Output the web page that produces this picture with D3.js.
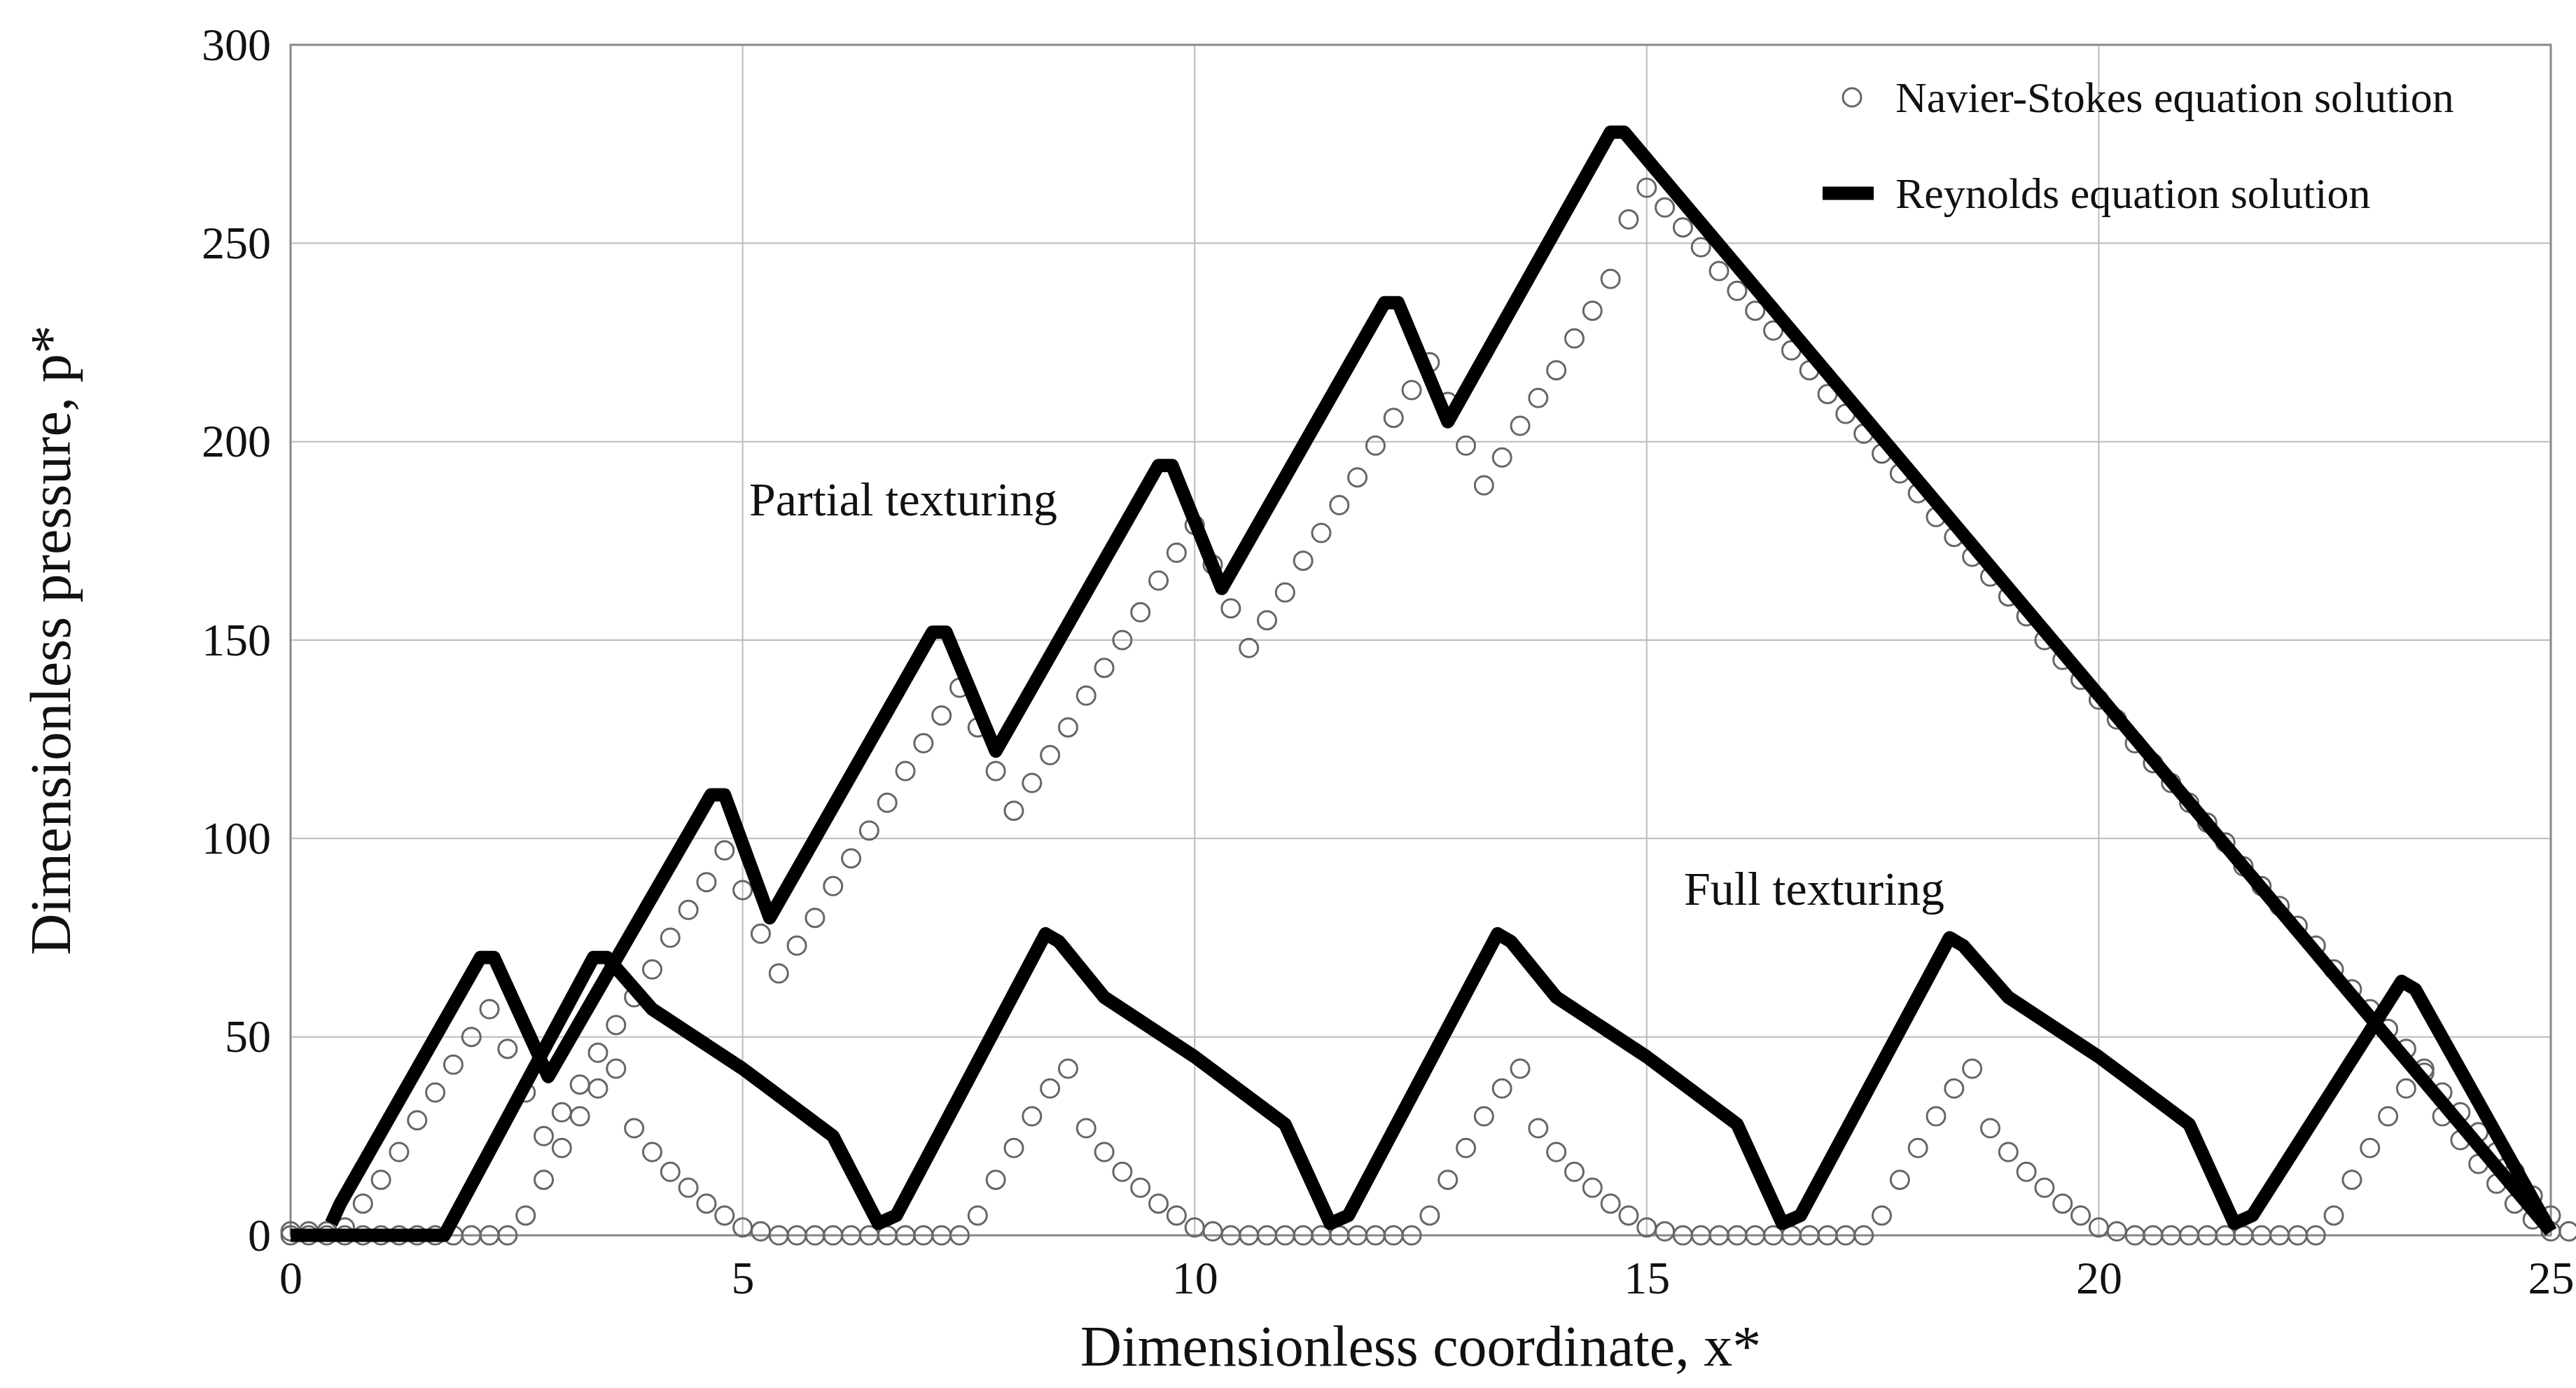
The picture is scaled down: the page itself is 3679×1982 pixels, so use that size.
<!DOCTYPE html>
<html>
<head>
<meta charset="utf-8">
<script src="https://cdn.jsdelivr.net/npm/d3@7"></script>
<style>
  body { margin: 0; background: #fff; }
  text { font-family: "Liberation Serif", "DejaVu Serif", serif; fill: #111; }
</style>
</head>
<body>
<svg id="chart" width="3679" height="1982"></svg>
<script>
// x step between Navier-Stokes samples
var nsStep = 0.2;

// Navier-Stokes, partial texturing (x = 0, 0.2, ... 25)
var nsPartial = [1,1,1,2,8,14,21,29,36,43,50,57,47,36,25,31,38,46,53,60,
  67,75,82,89,97,87,76,66,73,80,88,95,102,109,117,124,131,138,128,117,
  107,114,121,128,136,143,150,157,165,172,179,169,158,148,155,162,170,177,184,191,
  199,206,213,220,210,199,189,196,204,211,218,226,233,241,256,264,259,254,249,243,
  238,233,228,223,218,212,207,202,197,192,187,181,176,171,166,161,156,150,145,140,
  135,130,124,119,114,109,104,99,93,88,83,78,73,67,62,57,52,47,41,36,
  31,26,21,16,10,5,1];

// Navier-Stokes, full texturing (x = 0, 0.2, ... 25)
var nsFull = [0,0,0,0,0,0,0,0,0,0,0,0,0,
  5,14,22,30,37,42,27,21,16,12,8,5,2,1,0,0,0,0,0,0,0,0,0,0,0,
  5,14,22,30,37,42,27,21,16,12,8,5,2,1,0,0,0,0,0,0,0,0,0,0,0,
  5,14,22,30,37,42,27,21,16,12,8,5,2,1,0,0,0,0,0,0,0,0,0,0,0,
  5,14,22,30,37,42,27,21,16,12,8,5,2,1,0,0,0,0,0,0,0,0,0,0,0,
  5,14,22,30,37,42,30,24,18,13,8,4,1];

// Reynolds, partial texturing
var reyPartialX = [0.45,0.55,2.1,2.25,2.85,4.65,4.8,5.3,7.1,7.25,7.8,9.6,9.75,10.3,12.1,12.25,12.8,14.6,14.75,25];
var reyPartialY = [3,8,70,70,40,111,111,80,152,152,122,194,194,163,235,235,205,278,278,1];

// Reynolds, full texturing
var reyFullX = [0,1.7,3.35,3.5,4,5,6,6.5,6.7,8.35,8.5,9,10,11,11.5,11.7,13.35,13.5,14,15,16,16.5,16.7,18.35,18.5,19,20,21,21.5,21.7,23.35,23.5,25];
var reyFullY = [0,0,70,70,57,42,25,3,5,76,74,60,45,28,3,5,76,74,60,45,28,3,5,75,73,60,45,28,3,5,64,62,1];

var xTicks = [0,5,10,15,20,25];
var yTicks = [0,50,100,150,200,250,300];

var svg = d3.select('#chart');
var pLeft = 415, pRight = 3643, pTop = 64, pBottom = 1764;

var x = d3.scaleLinear().domain([0,25]).range([pLeft,pRight]);
var y = d3.scaleLinear().domain([0,300]).range([pBottom,pTop]);

// grid
svg.append('g').selectAll('line').data(xTicks).join('line')
  .attr('x1', d => x(d)).attr('x2', d => x(d)).attr('y1', pTop).attr('y2', pBottom)
  .attr('stroke', '#bbb').attr('stroke-width', 2);
svg.append('g').selectAll('line').data(yTicks).join('line')
  .attr('y1', d => y(d)).attr('y2', d => y(d)).attr('x1', pLeft).attr('x2', pRight)
  .attr('stroke', '#bbb').attr('stroke-width', 2);
svg.append('rect').attr('x', pLeft).attr('y', pTop).attr('width', pRight-pLeft).attr('height', pBottom-pTop)
  .attr('fill', 'none').attr('stroke', '#888').attr('stroke-width', 3);

// axes
var xAxis = svg.append('g').attr('transform', 'translate(0,' + pBottom + ')')
  .call(d3.axisBottom(x).tickValues(xTicks).tickSize(0).tickPadding(36));
var yAxis = svg.append('g').attr('transform', 'translate(' + pLeft + ',0)')
  .call(d3.axisLeft(y).tickValues(yTicks).tickSize(0).tickPadding(28));
[xAxis, yAxis].forEach(function(a){
  a.select('.domain').remove();
  a.selectAll('text').attr('font-size', 66).attr('font-family', 'Liberation Serif').attr('fill', '#111');
});

svg.append('text').attr('x', (pLeft+pRight)/2).attr('y', 1950).attr('text-anchor', 'middle')
  .attr('font-size', 82).text('Dimensionless coordinate, x*');
svg.append('text').attr('transform', 'translate(100,' + ((pTop+pBottom)/2) + ') rotate(-90)')
  .attr('text-anchor', 'middle').attr('font-size', 82).text('Dimensionless pressure, p*');

// Navier-Stokes circles
function circles(vals) {
  svg.append('g').selectAll('circle').data(vals).join('circle')
    .attr('cx', (d, i) => x(i * nsStep)).attr('cy', d => y(d)).attr('r', 13)
    .attr('fill', 'none').attr('stroke', '#666').attr('stroke-width', 3);
}
circles(nsFull);
circles(nsPartial);

// Reynolds lines
var line = d3.line().x(d => x(d[0])).y(d => y(d[1]));
[[reyPartialX, reyPartialY], [reyFullX, reyFullY]].forEach(function(s){
  svg.append('path').datum(d3.zip(s[0], s[1])).attr('d', line)
    .attr('fill', 'none').attr('stroke', '#000').attr('stroke-width', 19).attr('stroke-linejoin', 'round');
});

// annotations
svg.append('text').attr('x', 1070).attr('y', 736).attr('font-size', 68).text('Partial texturing');
svg.append('text').attr('x', 2405).attr('y', 1292).attr('font-size', 68).text('Full texturing');

// legend
svg.append('circle').attr('cx', 2645).attr('cy', 139).attr('r', 13)
  .attr('fill', 'none').attr('stroke', '#666').attr('stroke-width', 3);
svg.append('text').attr('x', 2707).attr('y', 160).attr('font-size', 62).text('Navier-Stokes equation solution');
svg.append('line').attr('x1', 2603).attr('x2', 2676).attr('y1', 276).attr('y2', 276)
  .attr('stroke', '#000').attr('stroke-width', 19);
svg.append('text').attr('x', 2707).attr('y', 297).attr('font-size', 62).text('Reynolds equation solution');
</script>
</body>
</html>
